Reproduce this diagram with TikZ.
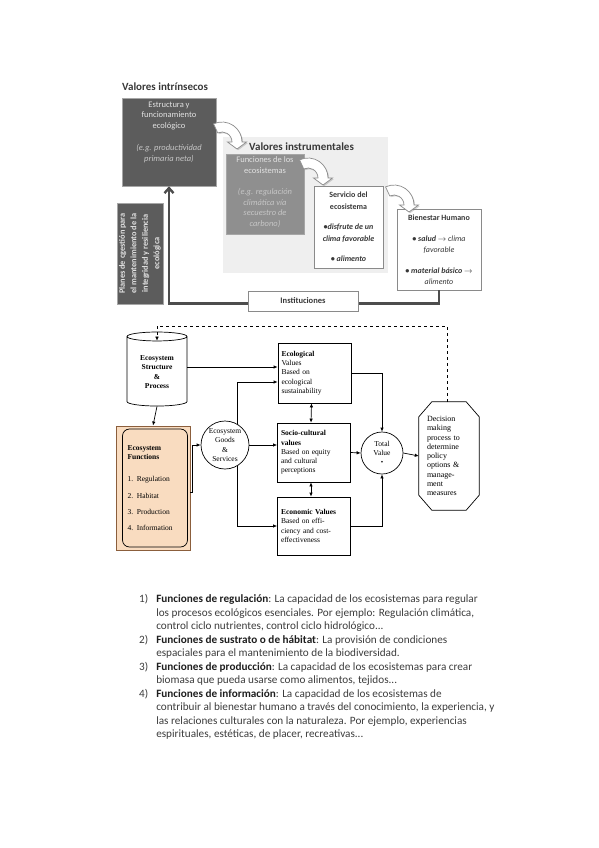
\documentclass[tikz,border=0pt]{standalone}
\usepackage{fontspec}
\setmainfont{Carlito}
\newfontfamily\serifface{Liberation Serif}
\usetikzlibrary{positioning,shapes.geometric,arrows.meta,calc,shadows}

\definecolor{boxdark}{HTML}{5C5C5C}
\definecolor{boxmid}{HTML}{8F8F8F}
\definecolor{boxedge}{HTML}{A6A6A6}
\definecolor{panelgrey}{HTML}{EFEFEF}
\definecolor{lighttext}{HTML}{E2E2E2}
\definecolor{dimtext}{HTML}{C6C6C6}
\definecolor{titlegrey}{HTML}{383838}
\definecolor{linegrey}{HTML}{8A8A8A}
\definecolor{flowgrey}{HTML}{4D4D4D}
\definecolor{bentgrey}{HTML}{8C8C8C}
\definecolor{funfill}{HTML}{F9DCC0}
\definecolor{funedge}{HTML}{8B5E3C}
\definecolor{listtext}{HTML}{3C3C3C}
\definecolor{listhead}{HTML}{1E1E1E}

% curved block arrow, centre of the bend at (#1,#2)
\newcommand{\bentarrow}[3]{%
  \coordinate (#3) at (#1,#2);
  \draw[bent] ($(#3)+(245:20)$) arc[start angle=245, end angle=360, radius=20]
    -- ++(4.5,0) -- ($(#3)+(15,7)$) -- ($(#3)+(5.5,0)$) -- ($(#3)+(10,0)$)
    arc[start angle=360, end angle=245, radius=10] -- cycle;}

\begin{document}
\begin{tikzpicture}[x=1pt,y=-1pt,
  every node/.style={inner sep=1pt},
  darkbox/.style={draw=boxedge, fill=boxdark, line width=0.6pt},
  midbox/.style={draw=boxedge, fill=boxmid, line width=0.6pt},
  boxtext/.style={text=lighttext, align=center, font=\fontsize{8.5}{10.5}\selectfont},
  whitebox/.style={draw=linegrey, fill=white, line width=0.8pt, align=center, text=titlegrey},
  title/.style={font=\bfseries\fontsize{11}{12}\selectfont, text=titlegrey, anchor=west},
  flow/.style={draw=flowgrey, line width=2.4pt, -{Straight Barb[length=5pt,width=9pt]}},
  bent/.style={draw=bentgrey, fill=white, line width=0.7pt, drop shadow={opacity=0.35, shadow xshift=1.2pt, shadow yshift=-1.2pt}},
  serifbox/.style={draw, line width=0.7pt, fill=white, font=\serifface\fontsize{7.5}{9.3}\selectfont, align=left, text width=66pt, inner xsep=3.5pt},
  seriftext/.style={font=\serifface\fontsize{7.5}{9.2}\selectfont},
  conn/.style={draw, line width=0.7pt, -{Latex[length=4pt,width=3.5pt]}},
  dconn/.style={draw, line width=0.7pt, {Latex[length=4pt,width=3.5pt]}-{Latex[length=4pt,width=3.5pt]}}]
\useasboundingbox (0,0) rectangle (599,848);

% top figure
\node[fill=panelgrey, minimum width=165pt, minimum height=136pt] (instrpanel) at (305.5,205) {};
\node[title] (titleintr) at (121,87) {Valores intrínsecos};
\node[darkbox, minimum width=94pt, minimum height=88pt] (estr) at (169,142) {};
\node[boxtext, below=3pt of estr.north] (estrtext) {Estructura y\\funcionamiento\\ecológico\\[12pt]\textcolor{dimtext}{\textit{(e.g. productividad}}\\\textcolor{dimtext}{\textit{primaria neta)}}};
\node[title] (titleinstr) at (248,147) {Valores instrumentales};
\node[midbox, minimum width=78pt, minimum height=80pt] (func) at (265,194) {};
\node[boxtext, below=2pt of func.north] (functext) {Funciones de los\\ecosistemas\\[11pt]\textcolor{dimtext}{\textit{(e.g. regulación}}\\\textcolor{dimtext}{\textit{climática vía}}\\\textcolor{dimtext}{\textit{secuestro de}}\\\textcolor{dimtext}{\textit{carbono)}}};
\node[whitebox, minimum width=69pt, minimum height=82pt, font=\fontsize{8}{11.5}\selectfont] (serv) at (348.5,227) {\textbf{Servicio del}\\\textbf{ecosistema}\\[9pt]\textbf{\textit{•disfrute de un}}\\\textbf{\textit{clima favorable}}\\[9pt]\textbf{\textit{• alimento}}};
\node[whitebox, minimum width=84pt, minimum height=81pt, font=\fontsize{8}{10.5}\selectfont] (bien) at (439,249.5) {\textbf{Bienestar Humano}\\[11pt]\textbf{\textit{• salud}} $\rightarrow$ \textit{clima}\\\textit{favorable}\\[11pt]\textbf{\textit{• material básico}} $\rightarrow$\\\textit{alimento}};
\node[darkbox, minimum width=46pt, minimum height=101pt] (planes) at (140,253.5) {};
\node[boxtext, rotate=90, font=\bfseries\fontsize{8.3}{11.5}\selectfont] (planestext) at (planes) {Planes de cgestión para\\el mantenimiento de la\\integridad y resiliencia\\ecológica};
\draw[flow] (bien.south) -- ++(0,13) -| (estr.south);
\node[whitebox, minimum width=110pt, minimum height=20pt, font=\bfseries\fontsize{8.5}{9}\selectfont] (inst) at (303,301) {Instituciones};
\bentarrow{222}{142}{bendA}
\bentarrow{308}{178}{bendB}
\bentarrow{394}{205}{bendC}

% bottom figure
\node[cylinder, shape border rotate=90, aspect=0.25, draw, fill=white, line width=0.7pt, minimum width=60pt, minimum height=74pt, align=center, seriftext] (cyl) at (157,372) {\textbf{Ecosystem}\\\textbf{Structure}\\\textbf{\&}\\\textbf{Process}};
\node[draw=funedge, fill=funfill, line width=0.9pt, minimum width=74pt, minimum height=124pt] (fun) at (153,488) {};
\node[draw, rounded corners=7pt, line width=0.7pt, minimum width=65pt, minimum height=118pt, text width=55pt, align=left, seriftext] (funin) at (155,488) {\textbf{Ecosystem}\\\textbf{Functions}\\[13pt]1. Regulation\\[7pt]2. Habitat\\[7pt]3. Production\\[7pt]4. Information};
\node[draw, circle, fill=white, line width=0.7pt, minimum size=48pt, inner sep=0pt, align=center, seriftext] (goods) at (225,445) {Ecosystem\\Goods\\\&\\Services};
\node[serifbox, minimum height=60pt] (eco) at (314.5,373) {\textbf{Ecological}\\Values\\Based on\\ecological\\sustainability};
\node[serifbox, minimum height=59pt] (soc) at (314,452.5) {\textbf{Socio-cultural}\\\textbf{values}\\Based on equity\\and cultural\\perceptions};
\node[serifbox, minimum height=58pt] (econ) at (314,526) {\textbf{Economic Values}\\Based on effi-\\ciency and cost-\\effectiveness\\[8pt]};
\node[draw, circle, fill=white, line width=0.7pt, minimum size=42pt, inner sep=0pt, align=center, seriftext] (tot) at (382,453) {Total\\Value\\{\scriptsize\textbullet}};
\node[minimum width=60pt, minimum height=108pt, text width=44pt, align=left, font=\serifface\fontsize{8}{9.3}\selectfont] (dec) at (449,456) {Decision\\making\\process to\\determine\\policy\\options \&\\manage-\\ment\\measures};
\draw[line width=0.7pt] ([xshift=13pt]dec.north west) -- ([xshift=-13pt]dec.north east) -- ([yshift=-15pt]dec.north east) -- ([yshift=15pt]dec.south east) -- ([xshift=-13pt]dec.south east) -- ([xshift=13pt]dec.south west) -- ([yshift=15pt]dec.south west) -- ([yshift=-15pt]dec.north west) -- cycle;

\coordinate (dashtop) at (446,326);
\coordinate (ecoinA) at ([yshift=6pt]eco.west);
\coordinate (ecoinB) at ([yshift=-9pt]eco.west);
\draw[conn, dashed, line width=0.6pt] ([xshift=-2pt]dec.north) -- ([xshift=-2pt]dec.north |- dashtop) -| ([yshift=-9pt]cyl.north);
\draw[conn] (cyl.south) -- (fun.north);
\draw[conn] (cyl.east |- ecoinA) -- (ecoinA);
\draw[conn] (goods.60) |- (ecoinB);
\draw[conn] (goods.east) -- (goods.east -| soc.west);
\draw[conn] (goods.-60) |- (econ.west);
\draw[conn] ([yshift=-4pt]fun.east) -- ++(2,0) |- (goods.west);
\draw[dconn] ([xshift=-3pt]eco.south) -- ([xshift=-3pt]soc.north);
\draw[dconn] ([xshift=-3pt]soc.south) -- ([xshift=-3pt]econ.north);
\draw[conn] (eco.east) -| (tot.north);
\draw[conn] (soc.east) -- (tot.west);
\draw[conn] (econ.east) -| (tot.south);
\draw[conn] (tot.east) -- (dec.west);

% list of functions
\node[anchor=north west, inner sep=0pt, text=listtext, font=\fontsize{11.2}{13.5}\selectfont] (funclist) at (139,593) {%
\begin{tabular}{@{}l@{\hspace{8pt}}l@{}}
1) & \textcolor{listhead}{\textbf{Funciones de regulación}}: La capacidad de los ecosistemas para regular\\
   & los procesos ecológicos esenciales. Por ejemplo: Regulación climática,\\
   & control ciclo nutrientes, control ciclo hidrológico...\\
2) & \textcolor{listhead}{\textbf{Funciones de sustrato o de hábitat}}: La provisión de condiciones\\
   & espaciales para el mantenimiento de la biodiversidad.\\
3) & \textcolor{listhead}{\textbf{Funciones de producción}}: La capacidad de los ecosistemas para crear\\
   & biomasa que pueda usarse como alimentos, tejidos...\\
4) & \textcolor{listhead}{\textbf{Funciones de información}}: La capacidad de los ecosistemas de\\
   & contribuir al bienestar humano a través del conocimiento, la experiencia, y\\
   & las relaciones culturales con la naturaleza. Por ejemplo, experiencias\\
   & espirituales, estéticas, de placer, recreativas...
\end{tabular}};
\end{tikzpicture}
\end{document}
